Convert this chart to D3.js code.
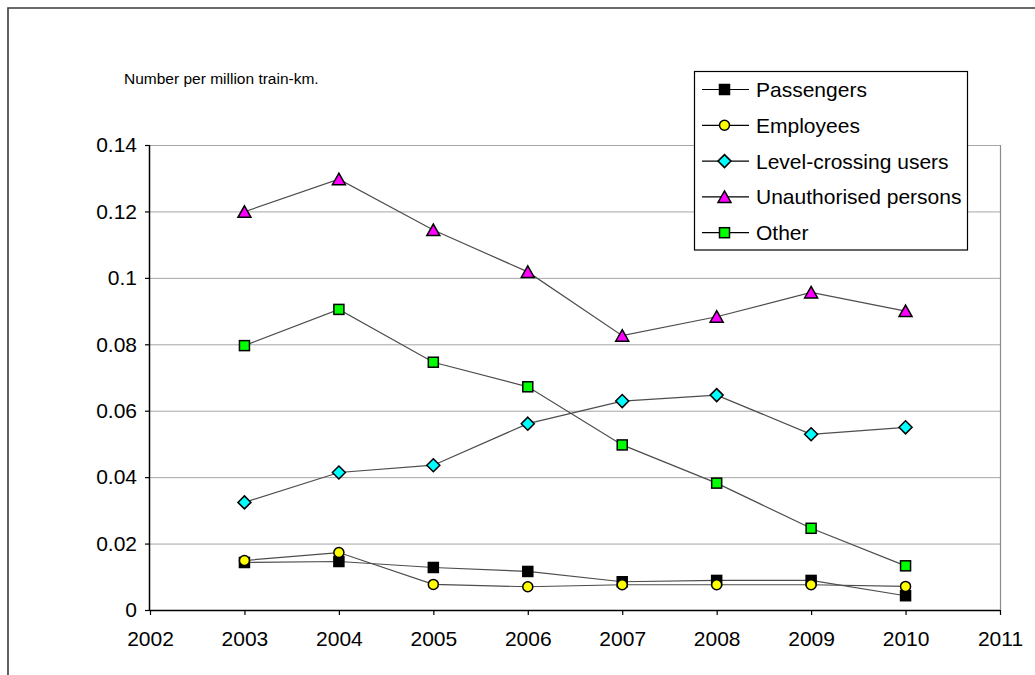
<!DOCTYPE html>
<html>
<head>
<meta charset="utf-8">
<script src="https://cdn.jsdelivr.net/npm/d3@7"></script>
<style>
  html, body { margin: 0; padding: 0; background: #fff; }
  svg { display: block; font-family: "Liberation Sans", Arial, sans-serif; }
</style>
</head>
<body>
<svg id="chart" width="1035" height="675"></svg>
<script>
// Fatalities per million train-km by victim group, 2003–2010
const years = [2003, 2004, 2005, 2006, 2007, 2008, 2009, 2010];
const passengers    = [0.0143, 0.0146, 0.0128, 0.0116, 0.0085, 0.0089, 0.0089, 0.0043];
const employees     = [0.0149, 0.0173, 0.0077, 0.0070, 0.0076, 0.0076, 0.0076, 0.0071];
const levelCrossing = [0.0324, 0.0414, 0.0436, 0.0561, 0.0629, 0.0647, 0.0529, 0.0550];
const unauthorised  = [0.1199, 0.1297, 0.1144, 0.1018, 0.0826, 0.0883, 0.0956, 0.0900];
const other         = [0.0796, 0.0905, 0.0746, 0.0672, 0.0497, 0.0382, 0.0246, 0.0133];

const seriesNames = ["Passengers", "Employees", "Level-crossing users", "Unauthorised persons", "Other"];
const xTicks = [2002, 2003, 2004, 2005, 2006, 2007, 2008, 2009, 2010, 2011];
const yTicks = [0, 0.02, 0.04, 0.06, 0.08, 0.1, 0.12, 0.14];
const titleText = "Number per million train-km.";

const series = [
  { name: seriesNames[0], values: passengers,    shape: "square",   fill: "#000000" },
  { name: seriesNames[1], values: employees,     shape: "circle",   fill: "#ffff00" },
  { name: seriesNames[2], values: levelCrossing, shape: "diamond",  fill: "#00ffff" },
  { name: seriesNames[3], values: unauthorised,  shape: "triangle", fill: "#ff00ff" },
  { name: seriesNames[4], values: other,         shape: "square",   fill: "#00ff00" }
];

const svg = d3.select("#chart");
const plot = { left: 150, right: 1000, top: 145, bottom: 610 };

const x = d3.scaleLinear().domain([2002, 2011]).range([plot.left, plot.right]);
const y = d3.scaleLinear().domain([0, 0.14]).range([plot.bottom, plot.top]);

// Outer chart frame (runs past the page edge on the right and bottom)
svg.append("path")
  .attr("d", "M8,680 L8,8 L1040,8")
  .attr("fill", "none")
  .attr("stroke", "#3a3a3a")
  .attr("stroke-width", 1.6);

// Horizontal gridlines
svg.append("g")
  .selectAll("line")
  .data(yTicks.filter(d => d > 0))
  .join("line")
  .attr("x1", plot.left).attr("x2", plot.right)
  .attr("y1", d => y(d) + 0.5).attr("y2", d => y(d) + 0.5)
  .attr("stroke", "#a6a6a6")
  .attr("stroke-width", 1);

// Right edge of the plot area
svg.append("line")
  .attr("x1", plot.right + 0.5).attr("x2", plot.right + 0.5)
  .attr("y1", plot.top).attr("y2", plot.bottom)
  .attr("stroke", "#8c8c8c")
  .attr("stroke-width", 1.2);

// Y axis
const yAxis = d3.axisLeft(y)
  .tickValues(yTicks)
  .tickFormat(d => d3.format("~g")(d))
  .tickSize(5)
  .tickPadding(8);
const gy = svg.append("g")
  .attr("transform", `translate(${plot.left},0)`)
  .call(yAxis);
gy.select(".domain").attr("stroke", "#000").attr("stroke-width", 1.5)
  .attr("d", `M-0.5,${plot.top}V${plot.bottom}`);
gy.selectAll(".tick line").attr("stroke", "#000").attr("stroke-width", 1.2);
gy.selectAll(".tick text")
  .attr("font-size", 21)
  .attr("fill", "#000")
  .attr("font-family", "Liberation Sans, Arial, sans-serif");

// X axis
const xAxis = d3.axisBottom(x)
  .tickValues(xTicks)
  .tickFormat(d3.format("d"))
  .tickSize(5)
  .tickPadding(16);
const gx = svg.append("g")
  .attr("transform", `translate(0,${plot.bottom})`)
  .call(xAxis);
gx.select(".domain").attr("stroke", "#000").attr("stroke-width", 1.5)
  .attr("d", `M${plot.left},0.5H${plot.right}`);
gx.selectAll(".tick line").attr("stroke", "#000").attr("stroke-width", 1.2);
gx.selectAll(".tick text")
  .attr("font-size", 21)
  .attr("fill", "#000")
  .attr("font-family", "Liberation Sans, Arial, sans-serif");

// Marker drawing
function drawMarker(g, shape, fill, cx, cy) {
  const sw = 1.5;
  if (shape === "square") {
    g.append("rect")
      .attr("x", cx - 5).attr("y", cy - 5)
      .attr("width", 10).attr("height", 10)
      .attr("fill", fill).attr("stroke", "#000").attr("stroke-width", sw);
  } else if (shape === "circle") {
    g.append("circle")
      .attr("cx", cx).attr("cy", cy).attr("r", 5)
      .attr("fill", fill).attr("stroke", "#000").attr("stroke-width", sw);
  } else if (shape === "diamond") {
    g.append("path")
      .attr("d", `M${cx},${cy - 6.5}L${cx + 6.5},${cy}L${cx},${cy + 6.5}L${cx - 6.5},${cy}Z`)
      .attr("fill", fill).attr("stroke", "#000").attr("stroke-width", sw);
  } else if (shape === "triangle") {
    g.append("path")
      .attr("d", `M${cx},${cy - 6}L${cx + 6.5},${cy + 5.5}L${cx - 6.5},${cy + 5.5}Z`)
      .attr("fill", fill).attr("stroke", "#000").attr("stroke-width", sw)
      .attr("stroke-linejoin", "miter");
  }
}

const line = d3.line()
  .x((d, i) => x(years[i]))
  .y(d => y(d));

// Series: line then markers, in series order
series.forEach(s => {
  const g = svg.append("g");
  g.append("path")
    .attr("d", line(s.values))
    .attr("fill", "none")
    .attr("stroke", "#4d4d4d")
    .attr("stroke-width", 1.2);
  s.values.forEach((v, i) => drawMarker(g, s.shape, s.fill, x(years[i]), y(v)));
});

// Title above the plot
svg.append("text")
  .attr("x", 124).attr("y", 84)
  .attr("font-size", 15.5)
  .attr("fill", "#000")
  .text(titleText);

// Legend
const legend = svg.append("g");
legend.append("rect")
  .attr("x", 694.5).attr("y", 71.5)
  .attr("width", 273).attr("height", 178.5)
  .attr("fill", "#fff")
  .attr("stroke", "#000")
  .attr("stroke-width", 1.2);
series.forEach((s, i) => {
  const cy = 89.5 + i * 35.8;
  legend.append("line")
    .attr("x1", 702).attr("x2", 749)
    .attr("y1", cy).attr("y2", cy)
    .attr("stroke", "#000").attr("stroke-width", 1.2);
  drawMarker(legend, s.shape, s.fill, 724.5, cy);
  legend.append("text")
    .attr("x", 756).attr("y", cy)
    .attr("dy", "0.36em")
    .attr("font-size", 21)
    .attr("fill", "#000")
    .text(s.name);
});
</script>
</body>
</html>
